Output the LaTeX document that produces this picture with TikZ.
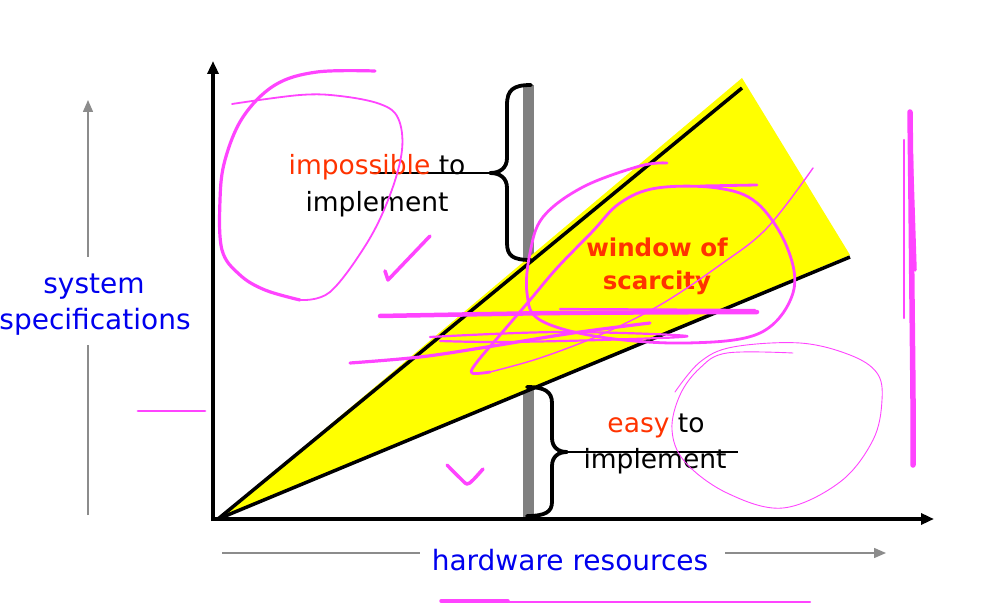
\documentclass[tikz,border=0pt]{standalone}
\usepackage{fontspec}
\setmainfont{DejaVu Sans}
\usetikzlibrary{arrows.meta}
\definecolor{redor}{HTML}{FF3300}
\definecolor{lblue}{HTML}{0000EE}
\definecolor{mag}{HTML}{FF44FF}
\definecolor{barg}{HTML}{808080}
\definecolor{arrg}{HTML}{8C8C8C}
\definecolor{yel}{HTML}{FFFF00}
\begin{document}
\begin{tikzpicture}[x=1pt,y=-1pt,
  lbl/.style={inner sep=0pt,font=\fontsize{26.5}{30}\selectfont},
  bluelbl/.style={inner sep=0pt,text=lblue,font=\fontsize{28}{32}\selectfont},
  winlbl/.style={inner sep=0pt,text=redor,font=\fontsize{24.5}{29}\selectfont\bfseries},
  grayarrow/.style={draw=arrg,line width=1.5pt},
  axis/.style={draw=black,line width=3.5pt,-{Triangle[length=13pt,width=11pt]}},
  bracestyle/.style={draw=black,line width=3.8pt,line cap=round,line join=round},
  scrib/.style={draw=mag,line cap=round,line join=round}
]
\useasboundingbox (0,0) rectangle (983,604);

% gray side arrows
\coordinate (ga1) at (88,515);
\coordinate (ga2) at (88,345);
\coordinate (ga3) at (88,257);
\coordinate (ga4) at (88,100);
\draw[grayarrow] (ga1) -- (ga2);
\draw[grayarrow,-{Triangle[length=12pt,width=10pt]}] (ga3) -- (ga4);
\coordinate (gb1) at (222,553);
\coordinate (gb2) at (420,553);
\coordinate (gb3) at (725,553);
\coordinate (gb4) at (886,553);
\draw[grayarrow] (gb1) -- (gb2);
\draw[grayarrow,-{Triangle[length=12pt,width=10pt]}] (gb3) -- (gb4);

% gray bar
\fill[barg] (523,85) rectangle (534,518);

% yellow window
\coordinate (O) at (218,519);
\coordinate (T) at (742,78);
\coordinate (R) at (850,255);
\fill[yel] (O) -- (T) -- (R) -- cycle;
\coordinate (Tb) at (742,88);
\coordinate (Rb) at (850,257);
\draw[line width=3.5pt] (O) -- (Tb);
\draw[line width=3.5pt] (O) -- (Rb);

% axes
\coordinate (yb) at (213,521);
\coordinate (yt) at (213,61);
\coordinate (xb) at (211,519);
\coordinate (xt) at (934,519);
\draw[axis] (yb) -- (yt);
\draw[axis] (xb) -- (xt);

% upper brace
\coordinate (ub) at (490,173);
\draw[bracestyle] (531,85) .. controls (513,85) and (507,90) .. (507,105) -- (507,158)
  .. controls (507,168) and (500,173) .. (ub)
  .. controls (500,173) and (507,178) .. (507,188) -- (507,243)
  .. controls (507,256) and (513,260) .. (531,260);
\coordinate (ubl) at (372,173);
\draw[line width=1.6pt] (ubl) -- (ub);

% lower brace
\coordinate (lb) at (567,452);
\draw[bracestyle] (527,387) .. controls (545,387) and (552,392) .. (552,403) -- (552,438)
  .. controls (552,447) and (558,452) .. (lb)
  .. controls (558,452) and (552,457) .. (552,466) -- (552,502)
  .. controls (552,512) and (545,516) .. (527,516);
\coordinate (lbr) at (738,452);
\draw[line width=1.6pt] (lb) -- (lbr);

% texts
\node[lbl] (imp1) at (377,167) {\textcolor{redor}{impossible} to};
\node[lbl] (imp2) at (377,204) {implement};
\node[winlbl] (win1) at (657,247) {window of};
\node[winlbl] (win2) at (657,283) {scarcity};
\node[lbl] (easy1) at (656,426) {\textcolor{redor}{easy} to};
\node[lbl] (easy2) at (655,461) {implement};
\node[bluelbl] (sys1) at (94,287) {system};
\node[bluelbl] (sys2) at (95,322) {specifications};
\node[bluelbl] (hw) at (570,560) {hardware resources};

% magenta scribbles
\draw[scrib,line width=3.2pt] plot[smooth,tension=0.6] coordinates {(375,71) (317,72) (275,85) (243,117) (225,160) (220,200) (222,250) (240,275) (265,290) (300,300)};
\draw[scrib,line width=1.8pt] plot[smooth,tension=0.6] coordinates {(300,300) (330,292) (367,243) (390,195) (402,150) (398,118) (380,104) (340,96) (300,95) (232,104)};
\draw[scrib,line width=3.5pt] (430,236) -- (388,280) -- (385,271);
\draw[scrib,line width=3.5pt] plot[smooth,tension=0.5] coordinates {(447,465) (460,478) (467,484) (473,480) (483,469)};
\draw[scrib,line width=2.8pt] (138,411) -- (205,411);
\draw[scrib,line width=3.5pt] (441,601) -- (508,601);
\draw[scrib,line width=2.2pt] (508,602) -- (810,602);
\draw[scrib,line width=5.5pt] plot[smooth] coordinates {(910,112) (911,200) (912,300) (913,400) (913,465)};
\draw[scrib,line width=2.2pt] (904,140) -- (904,318);
\draw[scrib,line width=3.5pt] (910,115) -- (915,270);
\draw[scrib,line width=0.9pt] plot[smooth,tension=0.6] coordinates {(675,392) (700,362) (733,347) (800,343) (850,355) (877,373) (882,400) (873,440) (840,482) (783,508) (727,493) (685,462) (672,430) (680,395) (700,368) (727,353) (793,353)};
% big oval around window
\draw[scrib,line width=2.8pt] plot[smooth,tension=0.6] coordinates {(667,163) (640,166) (583,187) (543,217) (530,253) (527,293) (540,320) (600,337) (687,343) (760,333) (793,293) (787,247) (757,203) (717,188) (657,188) (620,203) (592,232) (557,268) (530,300) (500,335) (477,362) (472,373) (490,372)};
\draw[scrib,line width=1.4pt] plot[smooth,tension=0.6] coordinates {(490,372) (540,358) (600,335) (660,305) (720,265) (767,228) (813,168)};
\draw[scrib,line width=2.8pt] (700,186) -- (757,185);
% horizontal scribbles
\draw[scrib,line width=4.5pt] plot[smooth] coordinates {(380,316) (560,313) (757,312)};
\draw[scrib,line width=2.2pt] (560,309) -- (755,310);
\draw[scrib,line width=2.2pt] plot[smooth,tension=0.6] coordinates {(430,337) (560,332) (687,336) (600,340) (500,342) (440,341)};
\draw[scrib,line width=3.2pt] plot[smooth,tension=0.6] coordinates {(350,363) (420,357) (487,347) (573,333) (650,323)};
\end{tikzpicture}
\end{document}
